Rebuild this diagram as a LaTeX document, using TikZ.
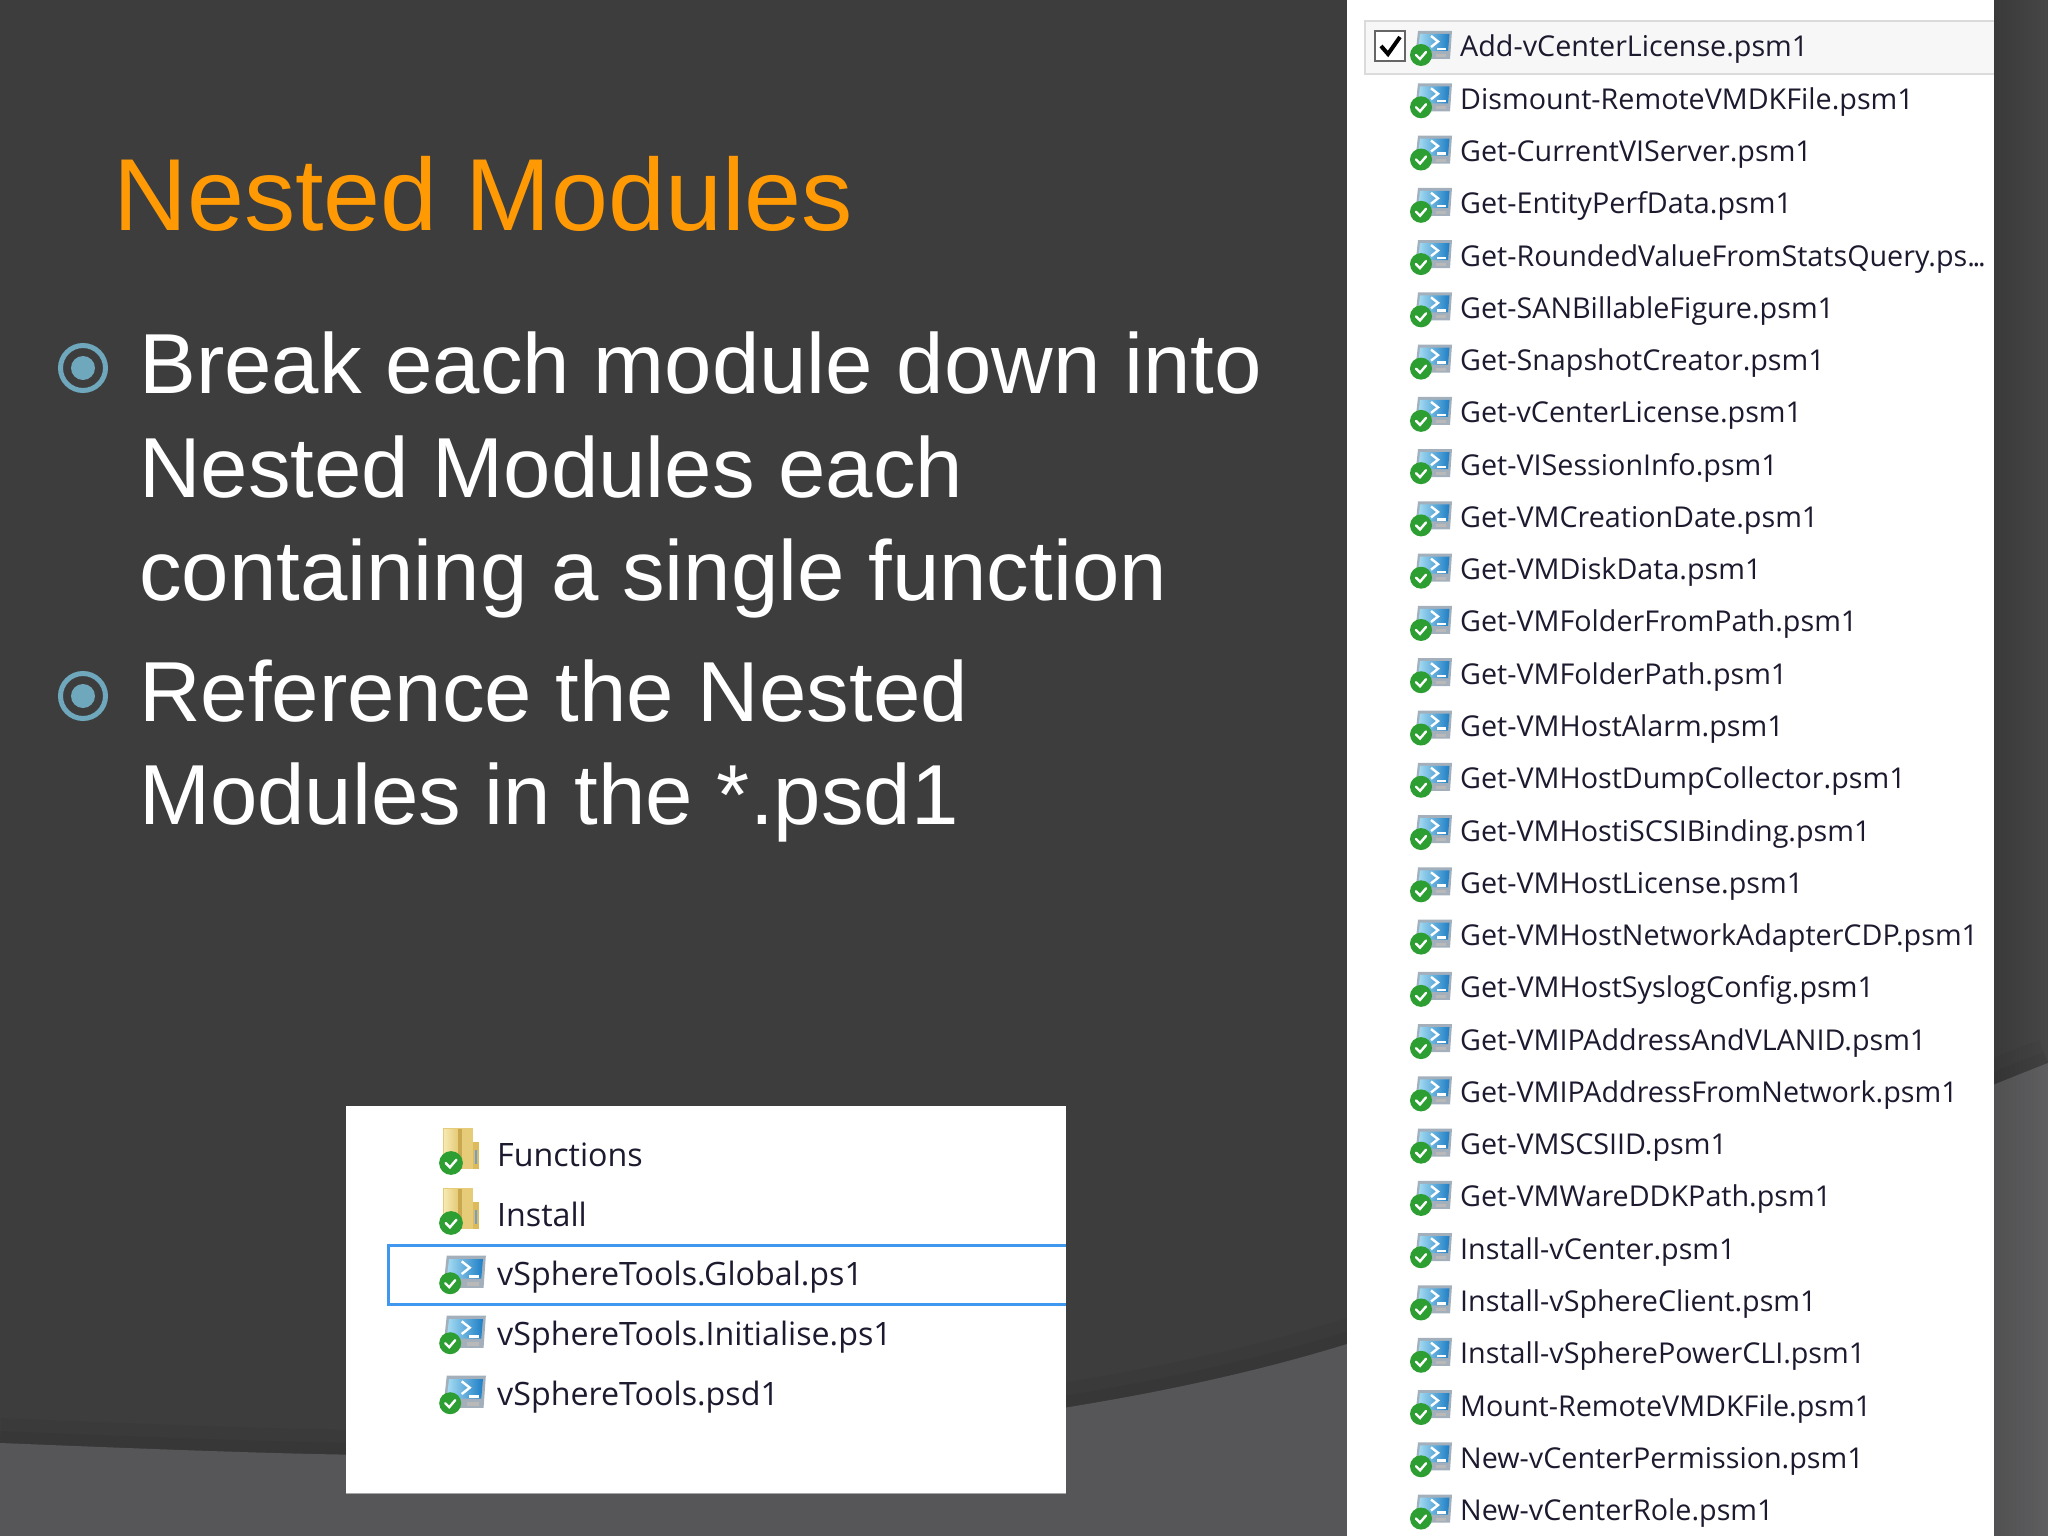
\documentclass[tikz,border=0pt]{standalone}
\usepackage{fontspec}
\setmainfont{Liberation Sans}
\newfontfamily\uifont{Open Sans}
\definecolor{bgdark}{HTML}{3E3D3E}
\definecolor{bglowl}{HTML}{565658}
\definecolor{bglowm}{HTML}{525154}
\definecolor{bglowr}{HTML}{565557}
\definecolor{titleorange}{HTML}{FF9A05}
\definecolor{bulletblue}{HTML}{6FA8BC}
\definecolor{uitext}{HTML}{1C1A2E}
\definecolor{selblue}{HTML}{3F97EE}
\definecolor{okgreen}{HTML}{2C9E32}
\definecolor{frameg}{HTML}{A3B0BC}
\definecolor{scrl}{HTML}{A6DCF2}
\definecolor{scrr}{HTML}{1F7FC6}
\definecolor{foldbody}{HTML}{E6CB78}
\definecolor{foldpale}{HTML}{F5E8B0}
\definecolor{foldspine}{HTML}{C9A850}
\definecolor{foldflap}{HTML}{DDBB5A}
\newcommand{\elldots}{.\kern-2.2pt.\kern-2.2pt.}
\tikzset{
  titletext/.style={anchor=base west,text=titleorange,font=\fontsize{102.4}{102.4}\selectfont,inner sep=0pt},
  bodytext/.style={anchor=base west,text=white,font=\fontsize{85.2}{85.2}\selectfont,inner sep=0pt},
  rowtext/.style={anchor=base west,text=uitext,font=\uifont\fontsize{28.7}{28.7}\selectfont,inner sep=0pt},
  lefttext/.style={anchor=base west,text=uitext,font=\uifont\fontsize{32.2}{32.2}\selectfont,inner sep=0pt},
  pics/okbadge/.style={code={
    \fill[okgreen] (0,0) circle (11);
    \draw[white,line width=2.4pt,line cap=round] (-5,0) -- (-1,4) -- (5,-3);
  }},
  pics/psicon/.style={code={
    \fill[frameg] (-15,-16) -- (19,-16) -- (17,12) -- (-18,12) -- cycle;
    \shade[left color=scrl,right color=scrr] (-13,-13) -- (16.5,-13) -- (15,4) -- (-15,4) -- cycle;
    \draw[white,line width=2.4pt] (-2,-11) -- (5,-5.5) -- (-2,0);
    \draw[white,line width=2.4pt] (4,2) -- (13,2);
    \fill[gray!55] (3,7) rectangle (13,10);
    \pic at (-12,8) {okbadge};
  }},
  pics/foldericon/.style={code={
    \fill[foldbody] (-19,-26) rectangle (11,15);
    \shade[left color=foldpale,right color=foldbody] (-18,-25) rectangle (-4,14);
    \fill[foldspine] (-4,-25) rectangle (0,15);
    \fill[foldflap] (11,-12) rectangle (17,15);
    \fill[cyan!55!blue!60!white] (13,-4) rectangle (15,10);
    \pic[scale=1.08] at (-11,9) {okbadge};
  }},
}
\begin{document}
\begin{tikzpicture}[x=1pt,y=-1pt]
\useasboundingbox (0,0) rectangle (2048,1536);
% background
\fill[bgdark] (0,0) rectangle (2048,1536);
\foreach \w in {50,24}{
  \draw[black,opacity=0.04,line width=\w pt] (0,1443) .. controls (150,1449) and (320,1456) .. (420,1455)
    .. controls (850,1452) and (1150,1405) .. (1347,1344)
    .. controls (1550,1288) and (1800,1160) .. (2048,1063);
}
\shade[left color=bglowl,middle color=bglowm,right color=bglowr] (0,1443) .. controls (150,1449) and (320,1456) .. (420,1455)
  .. controls (850,1452) and (1150,1405) .. (1347,1344)
  .. controls (1550,1288) and (1800,1160) .. (2048,1063)
  -- (2048,1536) -- (0,1536) -- cycle;
\shade[left color=black,right color=white,opacity=0.05,draw=none] (1994,0) rectangle (2048,1536);
% title
\node[titletext] (title) at (113,230) {Nested Modules};
% bullets
\foreach \by in {368,696}{
  \draw[bulletblue,line width=5pt] (83,\by) circle (22.5);
  \fill[bulletblue] (83,\by) circle (12);
}
\node[bodytext] (b1) at (139,393) {Break each module down into};
\node[bodytext] (b2) at (139,497) {Nested Modules each};
\node[bodytext] (b3) at (139,600) {containing a single function};
\node[bodytext] (b4) at (139,721) {Reference the Nested};
\node[bodytext] (b5) at (139,824) {Modules in the *.psd1};
% left panel
\fill[white] (346,1106) rectangle (1066,1493);
\draw[gray!70,line width=1pt] (346,1493) -- (1066,1493);
\draw[selblue,line width=3pt] (1066,1245) -- (388,1245) -- (388,1304) -- (1066,1304);
\pic at (462,1154) {foldericon};
\pic at (462,1214) {foldericon};
\pic[scale=1.15] at (464,1274) {psicon};
\pic[scale=1.15] at (464,1334) {psicon};
\pic[scale=1.15] at (464,1394) {psicon};
\node[lefttext] (l1) at (497,1166) {Functions};
\node[lefttext] (l2) at (497,1226) {Install};
\node[lefttext] (l3) at (497,1285.5) {vSphereTools.Global.ps1};
\node[lefttext] (l4) at (497,1345.5) {vSphereTools.Initialise.ps1};
\node[lefttext] (l5) at (497,1405.5) {vSphereTools.psd1};
% right panel
\fill[white] (1347,0) rectangle (1994,1536);
\filldraw[fill=black!3,draw=black!14,line width=2pt] (1994,21) -- (1365,21) -- (1365,74) -- (1994,74);
\filldraw[fill=white,draw=black!60,line width=2.5pt] (1375,31) rectangle (1405,61);
\draw[black,line width=4pt] (1381,46) -- (1388,54) -- (1400,37);
\foreach \lab [count=\i from 0] in {Add-vCenterLicense.psm1,Dismount-RemoteVMDKFile.psm1,Get-CurrentVIServer.psm1,Get-EntityPerfData.psm1,{Get-RoundedValueFromStatsQuery.ps\elldots},Get-SANBillableFigure.psm1,Get-SnapshotCreator.psm1,Get-vCenterLicense.psm1,Get-VISessionInfo.psm1,Get-VMCreationDate.psm1,Get-VMDiskData.psm1,Get-VMFolderFromPath.psm1,Get-VMFolderPath.psm1,Get-VMHostAlarm.psm1,Get-VMHostDumpCollector.psm1,Get-VMHostiSCSIBinding.psm1,Get-VMHostLicense.psm1,Get-VMHostNetworkAdapterCDP.psm1,Get-VMHostSyslogConfig.psm1,Get-VMIPAddressAndVLANID.psm1,Get-VMIPAddressFromNetwork.psm1,Get-VMSCSIID.psm1,Get-VMWareDDKPath.psm1,Install-vCenter.psm1,Install-vSphereClient.psm1,Install-vSpherePowerCLI.psm1,Mount-RemoteVMDKFile.psm1,New-vCenterPermission.psm1,New-vCenterRole.psm1}{
  \pgfmathsetmacro\ry{47+52.27*\i}
  \pgfmathsetmacro\rb{\ry+10}
  \pic at (1433,\ry) {psicon};
  \node[rowtext] (r\i) at (1460,\rb) {\lab};
}
\end{tikzpicture}
\end{document}
